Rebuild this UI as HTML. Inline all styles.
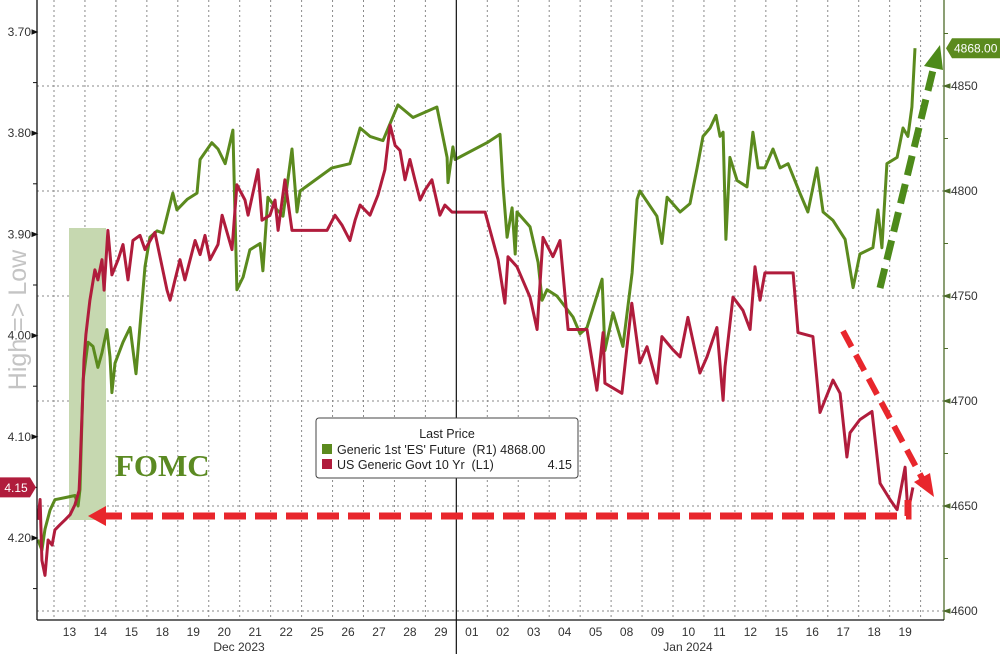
<!DOCTYPE html>
<html><head><meta charset="utf-8">
<style>
html,body{margin:0;padding:0;background:#fff;}
svg{display:block;font-family:"Liberation Sans",sans-serif;}
</style></head>
<body>
<svg id="chart" width="1000" height="654" viewBox="0 0 1000 654" xmlns="http://www.w3.org/2000/svg">
<rect x="0" y="0" width="1000" height="654" fill="#fff"/>
<g id="grid"></g>
<rect x="69" y="228" width="37" height="292" fill="#c6d8b0"/>
<text x="115" y="476" font-family="Liberation Serif, serif" font-weight="bold" font-size="31" fill="#5b8a22">FOMC</text>
<g id="series"></g>
<g id="axes"></g>
<text transform="translate(26,320) rotate(-90)" text-anchor="middle" font-size="25" fill="#c4c4c4">High =&gt; Low</text>
<g>
<rect x="316" y="418" width="262" height="60" rx="3" fill="#fff" stroke="#444" stroke-width="1"/>
<text x="447" y="438" text-anchor="middle" font-size="12.5" fill="#222">Last Price</text>
<rect x="322" y="444" width="10" height="10" fill="#5b8a1e"/>
<text x="337" y="454" font-size="12.5" fill="#222" xml:space="preserve">Generic 1st 'ES' Future  (R1) 4868.00</text>
<rect x="322" y="459" width="10" height="10" fill="#b01c3c"/>
<text x="337" y="469" font-size="12.5" fill="#222" xml:space="preserve">US Generic Govt 10 Yr  (L1)</text>
<text x="572" y="469" text-anchor="end" font-size="12.5" fill="#222">4.15</text>
</g>
<g id="annot"></g>
</svg>
<script>
const dayLabels=["13","14","15","18","19","20","21","22","25","26","27","28","29","01","02","03","04","05","08","09","10","11","12","15","16","17","18","19"];
const leftTicks=[3.70,3.80,3.90,4.00,4.10,4.20];
const rightTicks=[4600,4650,4700,4750,4800,4850];
const yieldT=[-0.52,-0.45,-0.39,-0.29,-0.19,-0.06,0.03,0.19,0.36,0.52,0.68,0.81,0.84,0.97,1.03,1.16,1.32,1.42,1.55,1.62,1.74,1.87,2.07,2.23,2.39,2.55,2.78,2.94,3.26,3.65,3.75,3.91,4.07,4.23,4.56,4.72,4.88,5.04,5.30,5.43,5.75,5.91,6.17,6.27,6.59,6.72,6.98,7.14,7.24,7.46,7.69,8.82,9.08,9.31,9.56,9.73,9.89,10.21,10.47,10.69,10.86,11.02,11.18,11.34,11.50,11.66,11.83,11.99,12.21,12.47,12.63,12.86,13.93,14.35,14.57,14.67,14.96,15.38,15.61,15.80,16.12,16.35,16.61,17.22,17.54,17.74,17.80,18.35,18.67,18.93,19.16,19.48,19.64,20.00,20.23,20.48,20.87,21.10,21.42,21.62,21.68,21.94,22.26,22.49,22.65,22.81,22.97,23.88,24.04,24.52,24.75,25.17,25.40,25.62,25.72,26.04,26.43,26.69,27.01,27.24,27.50,27.59,27.75];
const yieldV=[4.182,4.162,4.222,4.237,4.202,4.207,4.192,4.187,4.182,4.177,4.167,4.153,4.133,4.024,3.999,3.965,3.935,3.945,3.925,3.955,3.896,3.940,3.925,3.910,3.945,3.906,3.901,3.915,3.898,3.955,3.965,3.945,3.925,3.945,3.906,3.920,3.901,3.925,3.910,3.881,3.915,3.851,3.866,3.881,3.836,3.886,3.881,3.866,3.896,3.846,3.896,3.896,3.881,3.891,3.906,3.886,3.871,3.881,3.861,3.836,3.792,3.812,3.817,3.846,3.826,3.846,3.866,3.856,3.846,3.881,3.871,3.878,3.878,3.925,3.968,3.922,3.932,3.962,3.994,3.903,3.922,3.906,3.994,3.994,4.054,3.997,4.047,4.057,3.968,4.027,4.011,4.047,4.001,4.014,4.021,3.982,4.037,4.021,3.992,4.064,4.031,3.962,3.975,3.994,3.932,3.965,3.938,3.938,3.997,4.001,4.076,4.044,4.057,4.120,4.096,4.083,4.075,4.146,4.162,4.172,4.130,4.175,4.150];
const esT=[-0.52,-0.39,-0.29,-0.13,0.03,0.36,0.68,0.78,0.84,0.94,1.10,1.26,1.42,1.55,1.71,1.81,1.87,1.97,2.23,2.46,2.65,2.94,3.10,3.33,3.52,3.84,3.97,4.30,4.62,4.72,5.10,5.30,5.53,5.78,5.91,6.11,6.33,6.66,6.75,6.91,7.21,7.40,7.69,7.85,7.95,8.98,9.56,9.89,10.21,10.63,11.11,11.60,12.37,12.70,12.73,12.89,12.96,13.99,14.41,14.51,14.64,14.80,14.90,14.96,15.38,15.64,15.77,15.93,16.25,16.77,17.00,17.22,17.71,17.80,18.06,18.38,18.68,18.84,18.93,19.48,19.64,19.81,20.23,20.55,20.78,20.97,21.20,21.39,21.52,21.62,21.71,21.84,22.07,22.39,22.58,22.75,22.97,23.23,23.46,23.72,24.10,24.36,24.65,24.85,25.17,25.56,25.82,26.04,26.46,26.62,26.75,26.91,27.24,27.43,27.59,27.72,27.82];
const esV=[4634,4629,4639,4648,4653,4654,4655,4650,4658,4710,4728,4726,4716,4723,4734,4721,4704,4718,4728,4735,4713,4764,4778,4781,4780,4799,4791,4796,4799,4815,4823,4820,4813,4829,4753,4759,4772,4775,4762,4797,4791,4788,4820,4790,4800,4811,4813,4830,4826,4824,4841,4835,4840,4816,4804,4821,4815,4823,4827,4802,4778,4792,4770,4790,4783,4766,4748,4753,4750,4740,4732,4735,4758,4724,4742,4726,4761,4796,4800,4788,4775,4797,4790,4794,4811,4826,4830,4836,4826,4828,4777,4816,4805,4802,4828,4811,4811,4820,4811,4813,4799,4790,4811,4790,4786,4777,4754,4770,4773,4791,4773,4813,4816,4830,4826,4840,4868];
const lastES=4868.00, lastYield=4.15;

const NS="http://www.w3.org/2000/svg";
const X0=54, DW=30.95, PL=37, PR=944, PT=0, PB=620;
function xs(t){return X0+t*DW;}
function yL(v){return 32+(v-3.70)*1012;}
function yR(v){return 86+(4850-v)*2.1;}
function mk(tag,attrs,parent){const e=document.createElementNS(NS,tag);for(const k in attrs)e.setAttribute(k,attrs[k]);parent.appendChild(e);return e;}
const grid=document.getElementById('grid'),axes=document.getElementById('axes'),series=document.getElementById('series'),annot=document.getElementById('annot');

// vertical grid
for(let i=0;i<=dayLabels.length;i++){
  const x=xs(i); if(x>PR) break;
  if(i===13) continue;
  const l=mk('line',{x1:x,y1:PT,x2:x,y2:PB,stroke:'#8a8a8a','stroke-width':1,'stroke-dasharray':'2,3'},grid);
  
  
}
// horizontal grid (right axis)
rightTicks.forEach(v=>{
  const y=yR(v);
  const l=mk('line',{x1:PL,y1:y,x2:PR,y2:y,stroke:'#8a8a8a','stroke-width':1,'stroke-dasharray':'2,3'},grid);
  
  
});
// year separator
const sep=mk('line',{x1:xs(13),y1:PT,x2:xs(13),y2:654,stroke:'#222','stroke-width':1.3},axes);


// axes lines
const la=mk('line',{x1:PL,y1:0,x2:PL,y2:PB,stroke:'#111','stroke-width':1.3},axes);


const ra=mk('line',{x1:PR,y1:0,x2:PR,y2:PB,stroke:'#4d6b2a','stroke-width':1.3},axes);


const ba=mk('line',{x1:PL,y1:PB,x2:PR,y2:PB,stroke:'#111','stroke-width':1.3},axes);


// left ticks
leftTicks.forEach(v=>{
  const y=yL(v);
  const t=mk('path',{d:`M${PL-5},${y-2} L${PL},${y} L${PL-5},${y+2} Z`,fill:'#111',stroke:'#111','stroke-width':1},axes);
  
  
  const tx=mk('text',{x:PL-6,y:y+4,'text-anchor':'end','font-size':12,fill:'#333'},axes);
  tx.textContent=v.toFixed(2);
  
  
  const m=mk('line',{x1:PL-4,y1:y+50.6,x2:PL,y2:y+50.6,stroke:'#111','stroke-width':1},axes);
  
  
});
// right ticks
rightTicks.forEach(v=>{
  const y=yR(v);
  const t=mk('path',{d:`M${PR+6},${y-2} L${PR},${y} L${PR+6},${y+2} Z`,fill:'#4d6b2a',stroke:'#4d6b2a','stroke-width':1},axes);
  
  
  const tx=mk('text',{x:PR+7,y:y+4,'font-size':12,fill:'#333'},axes);
  tx.textContent=String(v);
  
  
  const m=mk('line',{x1:PR,y1:y-52.5,x2:PR+4,y2:y-52.5,stroke:'#4d6b2a','stroke-width':1},axes);
  
  
});
// day labels
dayLabels.forEach((d,i)=>{
  const tx=mk('text',{x:xs(i+0.5),y:636,'text-anchor':'middle','font-size':12,fill:'#333'},axes);
  tx.textContent=d;
  
  
});
const m1=mk('text',{x:239,y:651,'text-anchor':'middle','font-size':12,fill:'#333'},axes);
m1.textContent='Dec 2023';


const m2=mk('text',{x:688,y:651,'text-anchor':'middle','font-size':12,fill:'#333'},axes);
m2.textContent='Jan 2024';



// series
let dG=esT.map((t,i)=>(i?'L':'M')+xs(t).toFixed(1)+','+yR(esV[i]).toFixed(1)).join(' ');
const pg=mk('path',{d:dG,fill:'none',stroke:'#5b8a1e','stroke-width':3,'stroke-linejoin':'round'},series);


let dY=yieldT.map((t,i)=>(i?'L':'M')+xs(t).toFixed(1)+','+yL(yieldV[i]).toFixed(1)).join(' ');
const py=mk('path',{d:dY,fill:'none',stroke:'#b01c3c','stroke-width':3,'stroke-linejoin':'round'},series);



// annotations
const red='#e8262c', grn='#4d8a1a';
const a1=mk('path',{d:'M100,516 L908,516 L908,500',fill:'none',stroke:red,'stroke-width':7,'stroke-dasharray':'22,9'},annot);


const a1h=mk('path',{d:'M88,516 L106,506 L106,526 Z',fill:red},annot);


const a2=mk('line',{x1:843,y1:331,x2:922,y2:478,stroke:red,'stroke-width':6,'stroke-dasharray':'18,9'},annot);


const a2h=mk('path',{d:'M934,497 L914,482 L930,473 Z',fill:red},annot);


const a3=mk('line',{x1:880,y1:288,x2:933,y2:70,stroke:grn,'stroke-width':7,'stroke-dasharray':'20,9'},annot);


const a3h=mk('path',{d:'M940,45 L943,70 L924,66 Z',fill:grn},annot);



// last value labels
const yr=yR(lastES);
const lb=mk('path',{d:`M946,${yr} L952,${yr-10} L1000,${yr-10} L1000,${yr+10} L952,${yr+10} Z`,fill:'#5b8a1e'},annot);


const lt=mk('text',{x:954,y:yr+4.5,'font-size':12,fill:'#fff'},annot);
lt.textContent=lastES.toFixed(2);


const yl=yL(lastYield);
const lb2=mk('path',{d:`M0,${yl-10} L30,${yl-10} L36,${yl} L30,${yl+10} L0,${yl+10} Z`,fill:'#b01c3c'},annot);


const lt2=mk('text',{x:16,y:yl+4.5,'text-anchor':'middle','font-size':12,fill:'#fff'},annot);
lt2.textContent=lastYield.toFixed(2);


</script>
</body></html>
